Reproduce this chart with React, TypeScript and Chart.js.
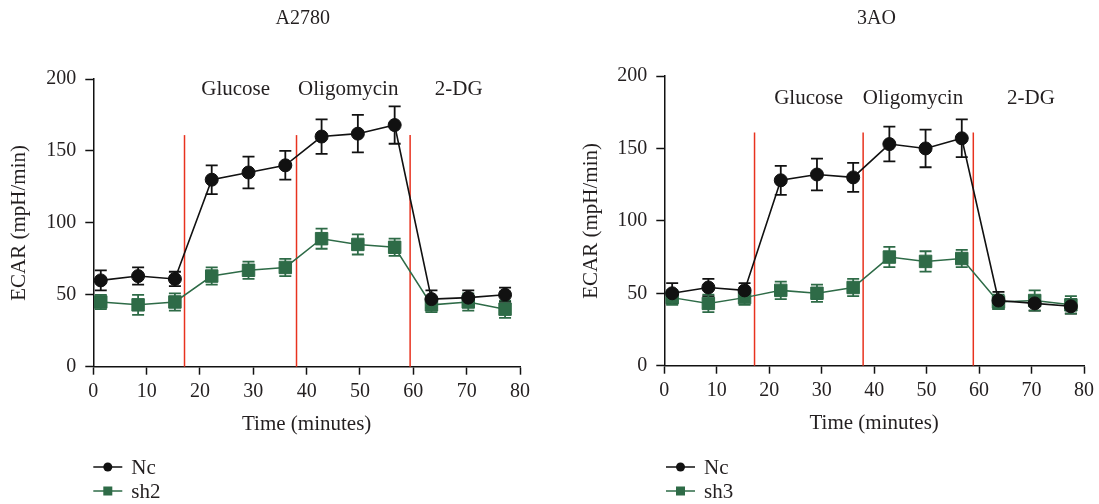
import React, { useEffect, useRef } from "react";
import { Chart, registerables } from "chart.js";

Chart.register(...registerables);

// ---------- Data ----------
const injectionLabels = ["Glucose", "Oligomycin", "2-DG"];

// A2780 panel
const timeA = [1.4, 8.4, 15.3, 22.2, 29.1, 36.0, 42.8, 49.6, 56.5, 63.4, 70.3, 77.2];
const ncA = [60, 63, 61, 130, 135, 140, 160, 162, 168, 47, 48, 50];
const ncErrA = [7, 6, 5, 10, 11, 10, 12, 13, 13, 6, 5, 5];
const sh2A = [45, 43, 45, 63, 67, 69, 89, 85, 83, 43, 45, 40];
const sh2ErrA = [5, 7, 6, 6, 6, 6, 7, 7, 6, 5, 6, 6];
const injectTimesA = [17.1, 38.1, 59.4];
const injectTopA = 161;

// 3AO panel
const timeB = [1.5, 8.4, 15.3, 22.2, 29.1, 36.0, 42.9, 49.8, 56.7, 63.7, 70.6, 77.5];
const ncB = [50, 54, 52, 128, 132, 130, 153, 150, 157, 45, 43, 41];
const ncErrB = [7, 6, 5, 10, 11, 10, 12, 13, 13, 6, 5, 5];
const sh3B = [47, 43, 47, 52, 50, 54, 75, 72, 74, 44, 45, 42];
const sh3ErrB = [5, 6, 5, 6, 6, 6, 7, 7, 6, 5, 7, 6];
const injectTimesB = [17.2, 37.9, 58.9];
const injectTopB = 161;

// ---------- Styles ----------
const FONT = "'Liberation Serif', 'Times New Roman', serif";
const TEXT = "#231f20";
const BLACK = "#111111";
const GREEN = "#2e6b47";
const RED = "#e8321e";
const LABEL_SIZE = 21;

type Panel = {
  title: string;
  time: number[];
  nc: number[];
  ncErr: number[];
  shName: string;
  sh: number[];
  shErr: number[];
  injectTimes: number[];
  injectTop: number;
  // layout
  left: number;
  width: number;
  yAxisWidth: number;
  pad: { left: number; right: number; top: number; bottom: number };
  yTitlePad: number;
  titleX: number;
  labelX: number[];
  labelY: number;
  legendX: number;
};

const panels: Panel[] = [
  {
    title: "A2780",
    time: timeA,
    nc: ncA,
    ncErr: ncErrA,
    shName: "sh2",
    sh: sh2A,
    shErr: sh2ErrA,
    injectTimes: injectTimesA,
    injectTop: injectTopA,
    left: 0,
    width: 560,
    yAxisWidth: 93.3,
    pad: { left: 0, right: 40, top: 79, bottom: 67.3 },
    yTitlePad: 8,
    titleX: 302.7,
    labelX: [26.7, 47.8, 68.5],
    labelY: 192.8,
    legendX: 93.3,
  },
  {
    title: "3AO",
    time: timeB,
    nc: ncB,
    ncErr: ncErrB,
    shName: "sh3",
    sh: sh3B,
    shErr: sh3ErrB,
    injectTimes: injectTimesB,
    injectTop: injectTopB,
    left: 560,
    width: 539,
    yAxisWidth: 104.3,
    pad: { left: 0, right: 10.7, top: 76, bottom: 68.3 },
    yTitlePad: 20,
    titleX: 316.5,
    labelX: [27.5, 47.4, 69.9],
    labelY: 184.6,
    legendX: 106,
  },
];

function makeOverlay(p: Panel, errs: number[][]) {
  return {
    id: "overlay",
    beforeDatasetsDraw(chart: any) {
      const { ctx, chartArea } = chart;
      const xs = chart.scales.x;
      const ys = chart.scales.y;
      ctx.save();
      // injection lines
      ctx.strokeStyle = RED;
      ctx.lineWidth = 1.5;
      p.injectTimes.forEach((t) => {
        const x = xs.getPixelForValue(t);
        ctx.beginPath();
        ctx.moveTo(x, chartArea.bottom);
        ctx.lineTo(x, ys.getPixelForValue(p.injectTop));
        ctx.stroke();
      });
      // error bars
      chart.data.datasets.forEach((ds: any, i: number) => {
        const e = errs[i];
        ctx.strokeStyle = ds.borderColor;
        ctx.lineWidth = 1.8;
        ds.data.forEach((pt: any, j: number) => {
          const x = xs.getPixelForValue(pt.x);
          const yTop = ys.getPixelForValue(pt.y + e[j]);
          const yBot = ys.getPixelForValue(pt.y - e[j]);
          ctx.beginPath();
          ctx.moveTo(x, yTop);
          ctx.lineTo(x, yBot);
          ctx.moveTo(x - 6, yTop);
          ctx.lineTo(x + 6, yTop);
          ctx.moveTo(x - 6, yBot);
          ctx.lineTo(x + 6, yBot);
          ctx.stroke();
        });
      });
      ctx.restore();
    },
    afterDraw(chart: any) {
      const { ctx } = chart;
      const xs = chart.scales.x;
      const ys = chart.scales.y;
      ctx.save();
      ctx.fillStyle = TEXT;
      ctx.font = `20px ${FONT}`;
      ctx.textAlign = "center";
      ctx.textBaseline = "middle";
      // title
      ctx.fillText(p.title, p.titleX, 19);
      // injection labels
      ctx.font = `${LABEL_SIZE}px ${FONT}`;
      injectionLabels.forEach((lab, k) => {
        ctx.fillText(lab, xs.getPixelForValue(p.labelX[k]), ys.getPixelForValue(p.labelY));
      });
      // legend
      const rows = [467, 491];
      chart.data.datasets.forEach((ds: any, i: number) => {
        const y = rows[i];
        const x0 = p.legendX;
        const x1 = x0 + 29;
        const xm = (x0 + x1) / 2;
        ctx.strokeStyle = ds.borderColor;
        ctx.fillStyle = ds.borderColor;
        ctx.lineWidth = 1.5;
        ctx.beginPath();
        ctx.moveTo(x0, y);
        ctx.lineTo(x1, y);
        ctx.stroke();
        if (ds.pointStyle === "circle") {
          ctx.beginPath();
          ctx.arc(xm, y, 4.5, 0, Math.PI * 2);
          ctx.fill();
        } else {
          ctx.fillRect(xm - 4.5, y - 4.5, 9, 9);
        }
        ctx.fillStyle = TEXT;
        ctx.textAlign = "left";
        ctx.fillText(ds.label, x1 + 9, y + 1);
      });
      ctx.restore();
    },
  };
}

function PanelChart({ p }: { p: Panel }) {
  const ref = useRef<HTMLCanvasElement | null>(null);
  useEffect(() => {
    if (!ref.current) return;
    const toPts = (ys: number[]) => ys.map((y, i) => ({ x: p.time[i], y }));
    const chart = new Chart(ref.current, {
      type: "line",
      data: {
        datasets: [
          {
            label: "Nc",
            data: toPts(p.nc),
            borderColor: BLACK,
            backgroundColor: BLACK,
            borderWidth: 1.6,
            pointStyle: "circle",
            pointRadius: 6.5,
            pointBorderWidth: 1,
            pointBackgroundColor: BLACK,
            pointBorderColor: BLACK,
          },
          {
            label: p.shName,
            data: toPts(p.sh),
            borderColor: GREEN,
            backgroundColor: GREEN,
            borderWidth: 1.5,
            pointStyle: "rect",
            pointRadius: 8.8,
            pointBorderWidth: 1,
            pointBackgroundColor: GREEN,
            pointBorderColor: GREEN,
          },
        ],
      },
      options: {
        animation: false,
        responsive: false,
        devicePixelRatio: 1,
        layout: { padding: p.pad },
        plugins: {
          legend: { display: false },
          tooltip: { enabled: false },
          title: { display: false },
        },
        font: { family: FONT },
        scales: {
          x: {
            type: "linear",
            min: 0,
            max: 80,
            afterFit: (s: any) => {
              s.height = 70;
            },
            ticks: {
              stepSize: 10,
              color: TEXT,
              padding: 5,
              font: { family: FONT, size: 20 },
              maxRotation: 0,
            },
            grid: {
              drawOnChartArea: false,
              drawTicks: true,
              tickLength: 8,
              tickColor: BLACK,
              tickWidth: 1.5,
            },
            border: { display: true, color: BLACK, width: 1.5 },
            title: {
              display: true,
              text: "Time (minutes)",
              color: TEXT,
              font: { family: FONT, size: LABEL_SIZE, lineHeight: 1.2 },
              padding: { top: 0, bottom: 0 },
            },
          },
          y: {
            type: "linear",
            min: 0,
            max: 200,
            afterFit: (s: any) => {
              s.width = p.yAxisWidth;
            },
            ticks: {
              stepSize: 50,
              color: TEXT,
              padding: 9,
              font: { family: FONT, size: 20 },
            },
            grid: {
              drawOnChartArea: false,
              drawTicks: true,
              tickLength: 8,
              tickColor: BLACK,
              tickWidth: 1.5,
            },
            border: { display: true, color: BLACK, width: 1.5 },
            title: {
              display: true,
              text: "ECAR (mpH/min)",
              color: TEXT,
              font: { family: FONT, size: LABEL_SIZE, lineHeight: 1.2 },
              padding: { top: p.yTitlePad - 1, bottom: 0 },
            },
          },
        },
      } as any,
      plugins: [makeOverlay(p, [p.ncErr, p.shErr])],
    });
    return () => chart.destroy();
  }, [p]);
  return (
    <canvas
      ref={ref}
      width={p.width}
      height={504}
      style={{ position: "absolute", left: p.left, top: 0, width: p.width, height: 504 }}
    />
  );
}

export default function App() {
  return (
    <div style={{ position: "absolute", left: 0, top: 0, width: 1099, height: 504, background: "#fff" }}>
      {panels.map((p) => (
        <PanelChart key={p.title} p={p} />
      ))}
    </div>
  );
}
